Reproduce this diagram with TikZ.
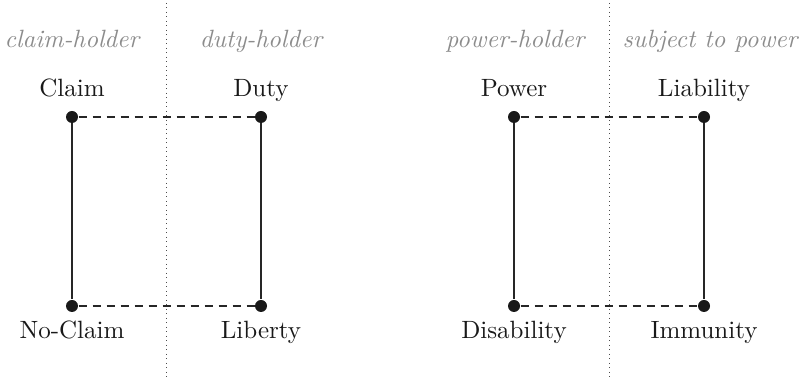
\documentclass[tikz,border=0pt]{standalone}
\begin{document}
\begin{tikzpicture}[x=0.4pt,y=-0.4pt,
  dot/.style={circle,fill=black!90,inner sep=0pt,minimum size=4.8pt},
  role/.style={font=\itshape,text=black!45,anchor=base},
  lbl/.style={text=black!90,anchor=base},
  divider/.style={black!70,line width=0.4pt,dash pattern=on 0.4pt off 1.4pt},
  rel/.style={black!85,line width=0.45pt},
  corr/.style={black!85,line width=0.45pt,dash pattern=on 3.2pt off 2.4pt}]
\useasboundingbox (0,0) rectangle (800,384);
\coordinate (d1t) at (166,3); \coordinate (d1b) at (166,381);
\coordinate (d2t) at (609,3); \coordinate (d2b) at (609,381);
\draw[divider] (d1t) -- (d1b);
\draw[divider] (d2t) -- (d2b);
\node[role] (r1) at (72,48) {claim-holder};
\node[role] (r2) at (261,48) {duty-holder};
\node[role] (r3) at (515,48) {power-holder};
\node[role] (r4) at (710,48) {subject to power};
\node[dot] (c) at (72,117) {};
\node[dot] (d) at (261,117) {};
\node[dot] (nc) at (72,306) {};
\node[dot] (l) at (261,306) {};
\node[dot] (p) at (514,117) {};
\node[dot] (li) at (704,117) {};
\node[dot] (di) at (514,306) {};
\node[dot] (im) at (704,306) {};
\node[lbl] (tc) at (72,97) {Claim};
\node[lbl] (td) at (261,97) {Duty};
\node[lbl] (tnc) at (72,339) {No-Claim};
\node[lbl] (tl) at (261,339) {Liberty};
\node[lbl] (tp) at (514,97) {Power};
\node[lbl] (tli) at (704,97) {Liability};
\node[lbl] (tdi) at (514,339) {Disability};
\node[lbl] (tim) at (704,339) {Immunity};
\draw[rel] (c) -- (nc);
\draw[rel] (d) -- (l);
\draw[rel] (p) -- (di);
\draw[rel] (li) -- (im);
\draw[corr] (c) -- (d);
\draw[corr] (nc) -- (l);
\draw[corr] (p) -- (li);
\draw[corr] (di) -- (im);
\end{tikzpicture}
\end{document}
